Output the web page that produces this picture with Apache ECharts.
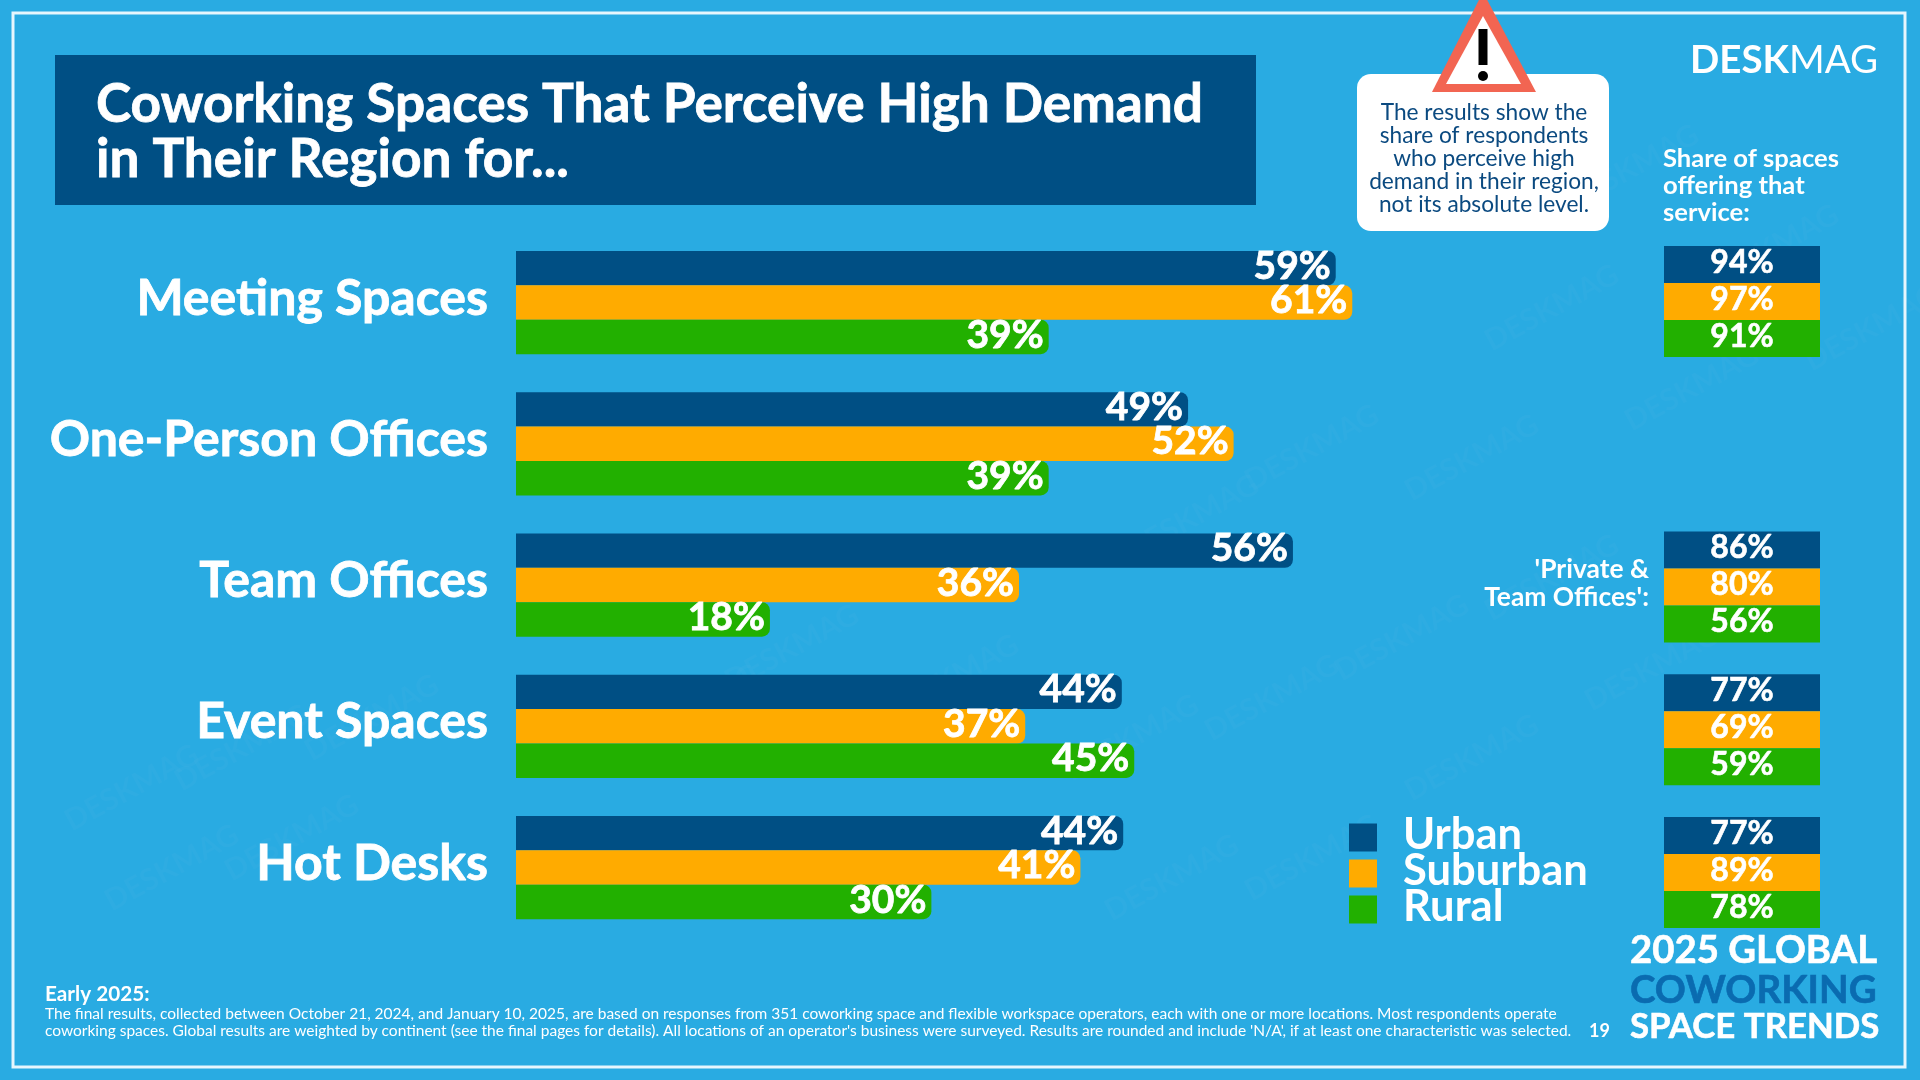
<!DOCTYPE html>
<html>
<head>
<meta charset="utf-8">
<title>Coworking Spaces That Perceive High Demand</title>
<script src="https://cdn.jsdelivr.net/npm/echarts@6/dist/echarts.min.js"></script>
<style>
    html, body {margin: 0; padding: 0; background: #29abe2;}
    #main {width: 1920px; height: 1080px;}
</style>
</head>
<body>
<div id="main"></div>
<script>
var categories = ['Meeting Spaces', 'One-Person Offices', 'Team Offices', 'Event Spaces', 'Hot Desks'];

// perceived high demand (labels show the rounded value)
var urban = [59.4, 48.7, 56.3, 43.9, 44.0];
var suburban = [60.6, 52.0, 36.45, 36.9, 40.9];
var rural = [38.6, 38.6, 18.4, 44.8, 30.1];

// share of spaces offering that service
var shareUrban = [94, null, 86, 77, 77];
var shareSuburban = [97, null, 80, 69, 89];
var shareRural = [91, null, 56, 59, 78];

var seriesNames = ['Urban', 'Suburban', 'Rural'];

var titleText = 'Coworking Spaces That Perceive High Demand\nin Their Region for...';
var noteText = 'The results show the\nshare of respondents\nwho perceive high\ndemand in their region,\nnot its absolute level.';
var shareTitle = 'Share of spaces\noffering that\nservice:';
var privateNote = "'Private &\nTeam Offices':";
var footHead = 'Early 2025:';
var footText = 'The final results, collected between October 21, 2024, and January 10, 2025, are based on responses from 351 coworking space and flexible workspace operators, each with one or more locations. Most respondents operate\n' +
    "coworking spaces. Global results are weighted by continent (see the final pages for details). All locations of an operator's business were surveyed. Results are rounded and include 'N/A', if at least one characteristic was selected.";

var NAVY = '#004f84', ORANGE = '#ffab00', GREEN = '#22b000', FONT = 'Lato';

var watermarks = [
    [1560, 190], [1700, 270], [1800, 350], [1480, 330], [1620, 410], [1400, 480], [1240, 470], [1120, 540],
    [1480, 600], [1330, 660], [1580, 690], [1200, 720], [1060, 760], [1400, 780], [880, 700], [720, 670],
    [620, 730], [1240, 880], [1100, 900], [60, 810], [170, 770], [300, 740], [100, 890], [220, 860]
];

function barSeries(name, values, color) {
    return {
        type: 'bar',
        name: name,
        xAxisIndex: 0,
        yAxisIndex: 0,
        data: values,
        barWidth: 34.4,
        barGap: 0,
        itemStyle: {color: color, borderRadius: [0, 8, 8, 0]},
        label: {
            show: true,
            position: 'insideRight',
            distance: 5,
            offset: [0, -2],
            color: '#fff',
            fontFamily: FONT,
            fontWeight: 'bold',
            fontSize: 39,
            textBorderColor: '#fff',
            textBorderWidth: 0.8,
            formatter: function (p) {
                return Math.round(p.value) + '%';
            }
        }
    };
}

function shareSeries(name, values, color) {
    // cell only, the width does not carry a value
    var cells = values.map(function (v) {
        return v === null ? null : {value: 1, share: v};
    });
    return {
        type: 'bar',
        name: name,
        xAxisIndex: 1,
        yAxisIndex: 1,
        data: cells,
        barWidth: 37,
        barGap: 0,
        itemStyle: {color: color},
        label: {
            show: true,
            position: 'inside',
            offset: [0, -2],
            color: '#fff',
            fontFamily: FONT,
            fontWeight: 'bold',
            fontSize: 32,
            textBorderColor: '#fff',
            textBorderWidth: 0.6,
            formatter: function (p) {
                return p.data.share + '%';
            }
        }
    };
}

var graphics = [];

watermarks.forEach(function (w) {
    graphics.push({
        type: 'text', x: w[0], y: w[1], rotation: 0.5, silent: true,
        style: {text: 'DESKMAG', fill: 'rgba(255,255,255,0.022)', font: 'bold 30px ' + FONT}
    });
});

graphics.push(
    {type: 'rect', shape: {x: 13, y: 13, width: 1892, height: 1054}, silent: true,
        style: {fill: null, stroke: '#e6f6fd', lineWidth: 3}},
    {type: 'rect', shape: {x: 55, y: 55, width: 1201, height: 150}, style: {fill: NAVY}},
    {type: 'text', x: 96, y: 77, style: {text: titleText, fill: '#fff', stroke: '#fff', lineWidth: 0.8, font: 'bold 53.2px ' + FONT, lineHeight: 55}},
    {type: 'rect', shape: {x: 1357, y: 74, width: 252, height: 157, r: 14}, style: {fill: '#fff'}},
    {type: 'polygon', shape: {points: [[1483, -8], [1536, 92], [1432, 92]]}, style: {fill: '#f26552'}},
    {type: 'polygon', shape: {points: [[1483, 16], [1521, 84], [1446, 84]]}, style: {fill: '#fff'}},
    {type: 'rect', shape: {x: 1478.5, y: 29, width: 9, height: 36}, style: {fill: '#000'}},
    {type: 'circle', shape: {cx: 1483, cy: 76, r: 5}, style: {fill: '#000'}},
    {type: 'text', x: 1484, y: 101, style: {text: noteText, fill: '#0b4a80', font: '22.7px ' + FONT, lineHeight: 23, align: 'center'}},
    {type: 'text', x: 1690, y: 41, style: {
        text: '{b|DESK}{r|MAG}', fill: '#fff',
        rich: {
            b: {font: 'bold 38.5px ' + FONT, fill: '#fff'},
            r: {font: '38.5px ' + FONT, fill: '#fff'}
        }
    }},
    {type: 'text', x: 1663, y: 145, style: {text: shareTitle, fill: '#fff', font: 'bold 25.6px ' + FONT, lineHeight: 27}},
    {type: 'text', x: 1649, y: 555, style: {text: privateNote, fill: '#fff', font: 'bold 26.4px ' + FONT, lineHeight: 28, align: 'right'}},
    {type: 'text', x: 45, y: 984, style: {text: footHead, fill: '#fff', font: 'bold 20.7px ' + FONT}},
    {type: 'text', x: 45, y: 1006, style: {text: footText, fill: '#fff', font: '15.5px ' + FONT, lineHeight: 16.5}},
    {type: 'text', x: 1589, y: 1022, style: {text: '19', fill: '#fff', font: 'bold 18px ' + FONT}},
    {type: 'text', x: 1630, y: 932, style: {text: '2025 GLOBAL', fill: '#fff', stroke: '#fff', lineWidth: 0.6, font: 'bold 38.3px ' + FONT}},
    {type: 'text', x: 1630, y: 971, style: {text: 'COWORKING', fill: '#0a6bb0', stroke: '#0a6bb0', lineWidth: 0.6, font: 'bold 38.5px ' + FONT}},
    {type: 'text', x: 1630, y: 1009, style: {text: 'SPACE TRENDS', fill: '#fff', stroke: '#fff', lineWidth: 0.6, font: 'bold 34.8px ' + FONT}}
);

var chart = echarts.init(document.getElementById('main'));
chart.setOption({
    backgroundColor: '#29abe2',
    animation: false,
    legend: {
        left: 1349,
        top: 812.5,
        padding: 0,
        orient: 'vertical',
        data: seriesNames,
        icon: 'rect',
        itemWidth: 28,
        itemHeight: 28,
        itemGap: -14,
        selectedMode: false,
        formatter: '{a|{name}}',
        textStyle: {
            rich: {
                a: {
                    color: '#fff',
                    fontFamily: FONT,
                    fontWeight: 'bold',
                    fontSize: 43.5,
                    lineHeight: 44,
                    padding: [0, 0, 6, 21]
                }
            }
        }
    },
    grid: [
        {left: 516, top: 231.9, width: 1380, height: 706.25},
        {left: 1664, top: 230, width: 156, height: 713.75}
    ],
    xAxis: [
        {type: 'value', gridIndex: 0, min: 0, max: 100, show: false},
        {type: 'value', gridIndex: 1, min: 0, max: 1, show: false}
    ],
    yAxis: [
        {
            type: 'category',
            gridIndex: 0,
            inverse: true,
            data: categories,
            axisLine: {show: false},
            axisTick: {show: false},
            axisLabel: {
                color: '#fff',
                fontFamily: FONT,
                fontWeight: 'bold',
                fontSize: 50,
                margin: 28,
                verticalAlign: 'bottom',
                lineHeight: 8,
                textBorderColor: '#fff',
                textBorderWidth: 0.8
            }
        },
        {type: 'category', gridIndex: 1, inverse: true, data: categories, show: false}
    ],
    graphic: graphics,
    series: [
        barSeries(seriesNames[0], urban, NAVY),
        barSeries(seriesNames[1], suburban, ORANGE),
        barSeries(seriesNames[2], rural, GREEN),
        shareSeries(seriesNames[0], shareUrban, NAVY),
        shareSeries(seriesNames[1], shareSuburban, ORANGE),
        shareSeries(seriesNames[2], shareRural, GREEN)
    ]
});
</script>
</body>
</html>
